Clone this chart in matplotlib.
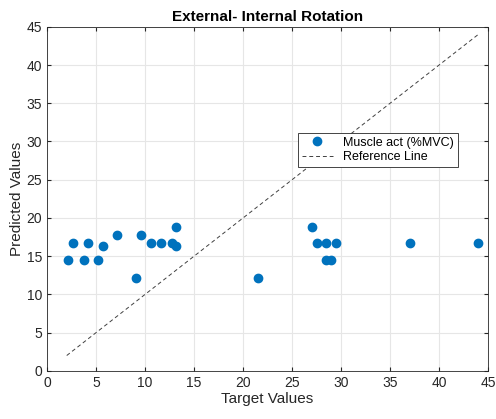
import matplotlib
matplotlib.use('Agg')
import matplotlib.pyplot as plt

# target vs predicted values
target = [2.1, 2.6, 3.8, 4.2, 5.2, 5.7, 7.1, 9.1, 9.6, 10.6, 11.6, 12.7, 13.2, 13.2,
          21.5, 27.0, 27.5, 28.5, 28.5, 29.0, 29.5, 37.0, 44.0]
predicted = [14.5, 16.7, 14.5, 16.7, 14.5, 16.3, 17.8, 12.2, 17.8, 16.7, 16.7, 16.7, 18.8, 16.3,
             12.2, 18.8, 16.7, 16.7, 14.5, 14.5, 16.7, 16.7, 16.7]
ref_line = [2.0, 44.0]

plt.rcParams['font.family'] = ['Liberation Sans', 'DejaVu Sans']

fig = plt.figure(figsize=(4.96, 4.19), dpi=100)
ax = fig.add_axes([0.095, 0.115, 0.889, 0.821])

ax.plot(target, predicted, 'o', color='#0072BD', markersize=6, label='Muscle act (%MVC)')
ax.plot(ref_line, ref_line, '--', color='#404040', linewidth=0.7, dashes=(4, 3),
        label='Reference Line')

ax.set_xlim(0, 45)
ax.set_ylim(0, 45)
ax.set_xticks(range(0, 46, 5))
ax.set_yticks(range(0, 46, 5))
ax.grid(True, color='#e6e6e6', linewidth=0.8)
ax.set_axisbelow(True)
ax.tick_params(direction='in', length=3, labelsize=10, colors='#262626', top=True, right=True,
               labeltop=False, labelright=False)
for s in ax.spines.values():
    s.set_color('#262626')
    s.set_linewidth(0.6)

ax.set_xlabel('Target Values', fontsize=11, color='#262626', labelpad=2)
ax.set_ylabel('Predicted Values', fontsize=11, color='#262626', labelpad=2)
ax.set_title('External- Internal Rotation', fontsize=11, fontweight='bold', pad=4)

leg = ax.legend(loc='upper left', bbox_to_anchor=(0.555, 0.71), fontsize=9,
                fancybox=False, framealpha=1, edgecolor='#262626', borderpad=0.3,
                handlelength=2.5, labelspacing=0.2)
leg.get_frame().set_linewidth(0.6)

fig.savefig('out.png', dpi=100)
